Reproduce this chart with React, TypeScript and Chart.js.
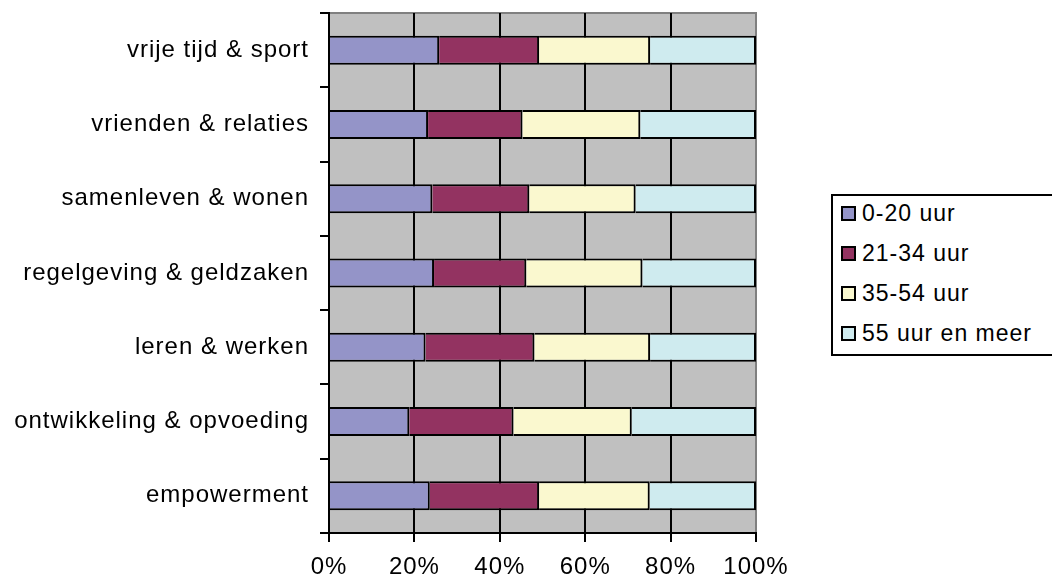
import React, { useEffect, useRef } from "react";
import { Chart, registerables } from "chart.js";

Chart.register(...registerables);

const categories = [
  "vrije tijd & sport",
  "vrienden & relaties",
  "samenleven & wonen",
  "regelgeving & geldzaken",
  "leren & werken",
  "ontwikkeling & opvoeding",
  "empowerment",
];

const seriesNames = ["0-20 uur", "21-34 uur", "35-54 uur", "55 uur en meer"];

const uur0_20 = [25.8, 23.2, 24.2, 24.6, 22.6, 18.8, 23.6];
const uur21_34 = [23.4, 22.1, 22.7, 21.6, 25.5, 24.4, 25.6];
const uur35_54 = [26.0, 27.6, 24.9, 27.2, 27.1, 27.7, 25.9];
const uur55plus = [24.8, 27.1, 28.2, 26.6, 24.8, 29.1, 24.9];

const xTicks = [0, 20, 40, 60, 80, 100];

const colors = ["#9494C8", "#933361", "#FAF8CF", "#CFEBEF"];

const FONT = "'Liberation Sans', Arial, sans-serif";

export default function App() {
  const ref = useRef<HTMLCanvasElement | null>(null);

  useEffect(() => {
    if (!ref.current) return;
    const values = [uur0_20, uur21_34, uur35_54, uur55plus];
    const bgPlugin = {
      id: "plotBg",
      beforeDraw(chart: any) {
        const { ctx, chartArea } = chart;
        ctx.letterSpacing = "1px";
        ctx.save();
        ctx.fillStyle = "#C0C0C0";
        ctx.fillRect(chartArea.left, chartArea.top, chartArea.right - chartArea.left, chartArea.bottom - chartArea.top);
        ctx.strokeStyle = "#808080";
        ctx.lineWidth = 2;
        ctx.beginPath();
        ctx.moveTo(chartArea.left, chartArea.top);
        ctx.lineTo(chartArea.right, chartArea.top);
        ctx.lineTo(chartArea.right, chartArea.bottom);
        ctx.stroke();
        ctx.restore();
      },
    };
    const chart = new Chart(ref.current, {
      type: "bar",
      data: {
        labels: categories,
        datasets: seriesNames.map((name, i) => ({
          label: name,
          data: values[i],
          backgroundColor: colors[i],
          borderColor: "#000",
          borderWidth: 2,
          barPercentage: 0.39,
          categoryPercentage: 1,
        })),
      },
      options: {
        indexAxis: "y",
        responsive: false,
        animation: false,
        layout: { padding: { top: 13, right: 296, left: 0, bottom: 0 } },
        plugins: { legend: { display: false }, tooltip: { enabled: false } },
        scales: {
          x: {
            type: "linear",
            stacked: true,
            min: 0,
            max: 100,
            afterFit: (s: any) => {
              s.height = 50;
            },
            afterBuildTicks: (s: any) => {
              s.ticks = xTicks.map((v) => ({ value: v }));
            },
            ticks: {
              callback: (v: any) => v + "%",
              color: "#000",
              font: { family: FONT, size: 24 },
              padding: 11,
              maxRotation: 0,
              autoSkip: false,
            },
            grid: {
              color: (c: any) => (c.tick && c.tick.value === 100 ? "#808080" : "#000"),
              tickColor: "#000",
              lineWidth: 2,
              tickLength: 9,
            },
            border: { display: true, color: "#000", width: 2 },
          },
          y: {
            type: "category",
            stacked: true,
            offset: true,
            afterFit: (s: any) => {
              s.width = 329;
              s.paddingTop = 0;
              s.paddingBottom = 0;
            },
            ticks: {
              color: "#000",
              font: { family: FONT, size: 24 },
              padding: 11,
              autoSkip: false,
            },
            grid: {
              offset: true,
              drawOnChartArea: false,
              drawTicks: true,
              tickLength: 9,
              color: "#000",
              lineWidth: 2,
            },
            border: { display: true, color: "#000", width: 2 },
          },
        },
      },
      plugins: [bgPlugin],
    });
    return () => chart.destroy();
  }, []);

  return (
    <div style={{ position: "absolute", left: 0, top: 0, width: 1052, height: 583, overflow: "hidden", background: "#fff" }}>
      <canvas ref={ref} width={1052} height={583} style={{ display: "block" }} />
      <div
        style={{
          position: "absolute",
          left: 831,
          top: 194,
          width: 240,
          height: 162,
          border: "2px solid #000",
          boxSizing: "border-box",
          background: "#fff",
          fontFamily: FONT,
          fontSize: 23,
          letterSpacing: "1px",
          color: "#000",
        }}
      >
        {seriesNames.map((name, i) => (
          <div
            key={name}
            style={{
              position: "absolute",
              left: 8,
              top: 19 - 2 + i * 40 - 14,
              height: 28,
              display: "flex",
              alignItems: "center",
              whiteSpace: "nowrap",
            }}
          >
            <span
              style={{
                display: "inline-block",
                width: 15,
                height: 15,
                boxSizing: "border-box",
                border: "2px solid #000",
                background: colors[i],
                marginRight: 6,
              }}
            />
            <span>{name}</span>
          </div>
        ))}
      </div>
    </div>
  );
}
